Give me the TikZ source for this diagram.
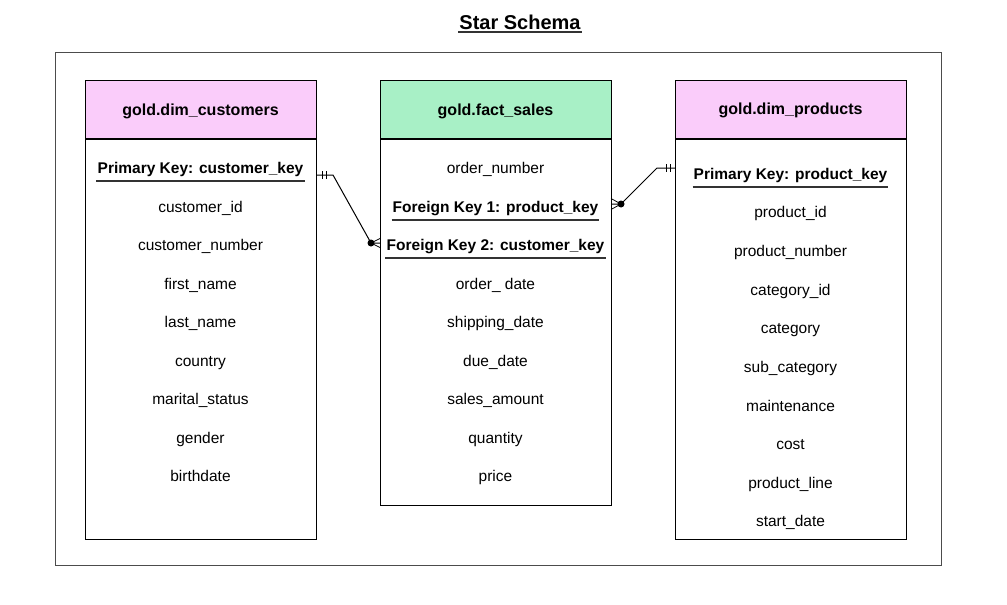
\documentclass[tikz,border=0pt]{standalone}
\usepackage{fontspec}
\setmainfont{Liberation Sans}
\usetikzlibrary{calc}
\definecolor{pinkhead}{HTML}{FACCFA}
\definecolor{greenhead}{HTML}{A8F0C6}
\begin{document}
\begin{tikzpicture}[x=1pt,y=-1pt,
  frame/.style={draw=black!70,line width=0.8pt},
  tbl/.style={draw=black,line width=1pt},
  headsep/.style={draw=black,line width=2pt},
  fld/.style={font=\fontsize{15.5}{17}\selectfont,inner sep=1pt,text height=11.5pt,text depth=4pt},
  keyfld/.style={font=\fontsize{15.5}{17}\selectfont\bfseries,inner sep=1pt,text height=11.5pt,text depth=4pt},
  hdr/.style={font=\fontsize{16}{18}\selectfont\bfseries},
  conn/.style={draw=black,line width=1pt},
  uline/.style={draw=black!80,line width=1.2pt}]
\useasboundingbox (0,0) rectangle (1007,605);
% title
\node[font=\fontsize{20}{22}\selectfont\bfseries,inner sep=1pt] (title) at (520,22) {Star Schema};
\draw[uline,line width=1.5pt] ($(title.south west)+(0,1.5)$) -- ($(title.south east)+(0,1.5)$);
% outer frame
\draw[frame] (55,52) rectangle (941,565);
% customers
\fill[pinkhead] (85,80) rectangle (316,139);
\draw[tbl] (85,80) rectangle (316,539);
\draw[headsep] (85,139) -- (316,139);
\node[hdr] (hc) at (200.5,111) {gold.dim\_customers};
% fact
\fill[greenhead] (380,80) rectangle (611,139);
\draw[tbl] (380,80) rectangle (611,505);
\draw[headsep] (380,139) -- (611,139);
\node[hdr] (hf) at (495.5,111) {gold.fact\_sales};
% products
\fill[pinkhead] (675,80) rectangle (906,139);
\draw[tbl] (675,80) rectangle (906,539);
\draw[headsep] (675,139) -- (906,139);
\node[hdr] (hp) at (790.5,110) {gold.dim\_products};
% customer fields
\node[keyfld] (cpk) at (200.5,170) {Primary Key: customer\_key};
\draw[uline] ($(cpk.south west)+(0,2)$) -- ($(cpk.south east)+(0,2)$);
\node[fld] (c1) at (200.5,209) {customer\_id};
\node[fld] (c2) at (200.5,247) {customer\_number};
\node[fld] (c3) at (200.5,286) {first\_name};
\node[fld] (c4) at (200.5,324) {last\_name};
\node[fld] (c5) at (200.5,363) {country};
\node[fld] (c6) at (200.5,401) {marital\_status};
\node[fld] (c7) at (200.5,440) {gender};
\node[fld] (c8) at (200.5,478) {birthdate};
% fact fields
\node[fld] (f0) at (495.5,170) {order\_number};
\node[keyfld] (fk1) at (495.5,209) {Foreign Key 1: product\_key};
\draw[uline] ($(fk1.south west)+(0,2)$) -- ($(fk1.south east)+(0,2)$);
\node[keyfld] (fk2) at (495.5,247) {Foreign Key 2: customer\_key};
\draw[uline] ($(fk2.south west)+(0,2)$) -- ($(fk2.south east)+(0,2)$);
\node[fld] (f3) at (495.5,286) {order\_ date};
\node[fld] (f4) at (495.5,324) {shipping\_date};
\node[fld] (f5) at (495.5,363) {due\_date};
\node[fld] (f6) at (495.5,401) {sales\_amount};
\node[fld] (f7) at (495.5,440) {quantity};
\node[fld] (f8) at (495.5,478) {price};
% product fields
\node[keyfld] (ppk) at (790.5,176) {Primary Key: product\_key};
\draw[uline] ($(ppk.south west)+(0,2)$) -- ($(ppk.south east)+(0,2)$);
\node[fld] (p1) at (790.5,214) {product\_id};
\node[fld] (p2) at (790.5,253) {product\_number};
\node[fld] (p3) at (790.5,292) {category\_id};
\node[fld] (p4) at (790.5,330) {category};
\node[fld] (p5) at (790.5,369) {sub\_category};
\node[fld] (p6) at (790.5,408) {maintenance};
\node[fld] (p7) at (790.5,446) {cost};
\node[fld] (p8) at (790.5,485) {product\_line};
\node[fld] (p9) at (790.5,523) {start\_date};
% connector customers -> fact
\coordinate (ca) at (316,175);
\coordinate (cb) at (333,175);
\coordinate (cc) at (371,243);
\coordinate (cd) at (380,243);
\draw[conn] (ca) -- (cb) -- (cc) -- (cd);
\draw[conn] (322,171) -- (322,179) (326,171) -- (326,179);
\fill (cc) circle (3.5pt);
\draw[conn,line width=0.8pt] (cc) -- (380,238.5) (cc) -- (380,247.5);
% connector fact -> products
\coordinate (pa) at (675,168);
\coordinate (pb) at (657,168);
\coordinate (pc) at (621,204);
\coordinate (pd) at (611,204);
\draw[conn] (pa) -- (pb) -- (pc) -- (pd);
\draw[conn] (666,164) -- (666,172) (670,164) -- (670,172);
\fill (pc) circle (3.5pt);
\draw[conn,line width=0.8pt] (pc) -- (611,198.5) (pc) -- (611,209.5);
\end{tikzpicture}
\end{document}
